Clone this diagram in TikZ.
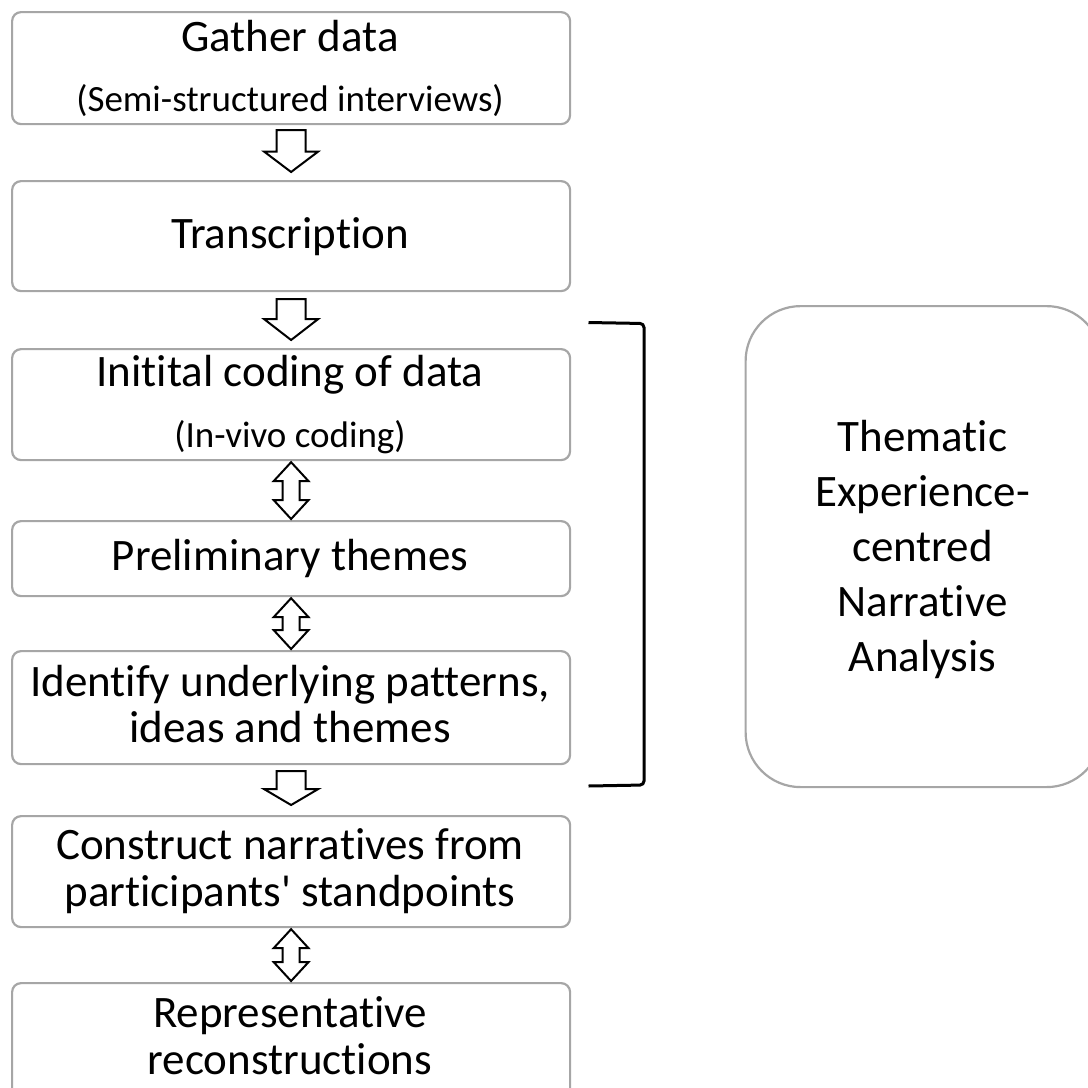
\documentclass[tikz,border=0pt]{standalone}
\usepackage{fontspec}
\setmainfont{Carlito}[Ligatures={NoCommon,TeXOff},RawFeature={-liga;-clig;-dlig}]
\usetikzlibrary{calc}
\definecolor{boxgray}{RGB}{166,166,166}
\tikzset{
  box/.style={draw=boxgray, line width=2.2pt, rounded corners=9pt, fill=white, inner sep=0pt, anchor=north west},
  bigbox/.style={draw=boxgray, line width=2.2pt, rounded corners=55pt, fill=white, inner sep=0pt, anchor=north west},
  maintext/.style={font=\fontsize{45}{54}\selectfont, anchor=base, inner sep=0pt},
  smalltext/.style={font=\fontsize{37}{44}\selectfont, anchor=base, inner sep=0pt},
  blockarr/.style={draw=black, line width=2pt, fill=white, line join=miter},
  bracketline/.style={draw=black, line width=3pt, rounded corners=4pt},
}
% single down block arrow between two nodes
\newcommand\blockdown[4]{% #1 upper node, #2 lower node, #3 top gap, #4 bottom gap
  \draw[blockarr] let \p1=(#1.south), \p2=(#2.north) in
    (\x1-14.5pt,\y1-#3) -- (\x1+14.5pt,\y1-#3) -- (\x1+14.5pt,{(\y1+\y2)/2+1pt})
    -- (\x1+27pt,{(\y1+\y2)/2+1pt}) -- (\x1,\y2+#4)
    -- (\x1-27pt,{(\y1+\y2)/2+1pt}) -- (\x1-14.5pt,{(\y1+\y2)/2+1pt}) -- cycle;
}
% double block arrow between two nodes
\newcommand\blockboth[2]{% #1 upper node, #2 lower node
  \draw[blockarr] let \p1=(#1.south), \p2=(#2.north) in
    (\x1,\y1-1pt) -- (\x1+17.5pt,\y1-20pt) -- (\x1+8.5pt,\y1-20pt)
    -- (\x1+8.5pt,\y2+20pt) -- (\x1+17.5pt,\y2+20pt) -- (\x1,\y2+1pt)
    -- (\x1-17.5pt,\y2+20pt) -- (\x1-8.5pt,\y2+20pt)
    -- (\x1-8.5pt,\y1-20pt) -- (\x1-17.5pt,\y1-20pt) -- cycle;
}
\begin{document}
\begin{tikzpicture}[x=1pt,y=-1pt]
\useasboundingbox (0,0) rectangle (1088,1088);
\clip (0,0) rectangle (1088,1088);

% left column boxes
\node[box, minimum width=558pt, minimum height=112pt] (b1) at (11,11) {};
\node[box, minimum width=558pt, minimum height=110pt] (b2) at (11,180) {};
\node[box, minimum width=558pt, minimum height=111pt] (b3) at (11,348) {};
\node[box, minimum width=558pt, minimum height=75pt]  (b4) at (11,520) {};
\node[box, minimum width=558pt, minimum height=113pt] (b5) at (11,650) {};
\node[box, minimum width=558pt, minimum height=111pt] (b6) at (11,815) {};
\node[box, minimum width=558pt, minimum height=120pt] (b7) at (11,982) {};

% right box (runs past the right edge)
\node[bigbox, minimum width=356pt, minimum height=481pt] (rb) at (744.5,305) {};

% texts
\node[maintext]  (t1a) at (290,51) {Gather data};
\node[smalltext] (t1b) at (290,111) {(Semi-structured interviews)};
\node[maintext]  (t2)  at (290,248) {Transcription};
\node[maintext]  (t3a) at (290,386.5) {Initital coding of data};
\node[smalltext] (t3b) at (290,447.5) {(In-vivo coding)};
\node[maintext]  (t4)  at (290,570) {Preliminary themes};
\node[maintext]  (t5a) at (290,696) {Identify underlying patterns,};
\node[maintext]  (t5b) at (290,742.5) {ideas and themes};
\node[maintext]  (t6a) at (290,859) {Construct narratives from};
\node[maintext]  (t6b) at (290,906) {participants{\char"0027} standpoints};
\node[maintext]  (t7a) at (290,1027) {Representative};
\node[maintext]  (t7b) at (290,1074) {reconstructions};

\node[maintext] (r1) at (922.5,451) {Thematic};
\node[maintext] (r2) at (922.5,506) {Experience-};
\node[maintext] (r3) at (922.5,561) {centred};
\node[maintext] (r4) at (922.5,616) {Narrative};
\node[maintext] (r5) at (922.5,671) {Analysis};

% arrows
\blockdown{b1}{b2}{5pt}{8pt}
\blockdown{b2}{b3}{7pt}{8pt}
\blockboth{b3}{b4}
\blockboth{b4}{b5}
\blockdown{b5}{b6}{6pt}{10pt}
\blockboth{b6}{b7}

% bracket
\coordinate (brt) at (588.5,322.5);
\coordinate (brb) at (588.5,786);
\draw[bracketline] (brt) -- (644,323.5) -- (644,785) -- (brb);
\end{tikzpicture}
\end{document}
